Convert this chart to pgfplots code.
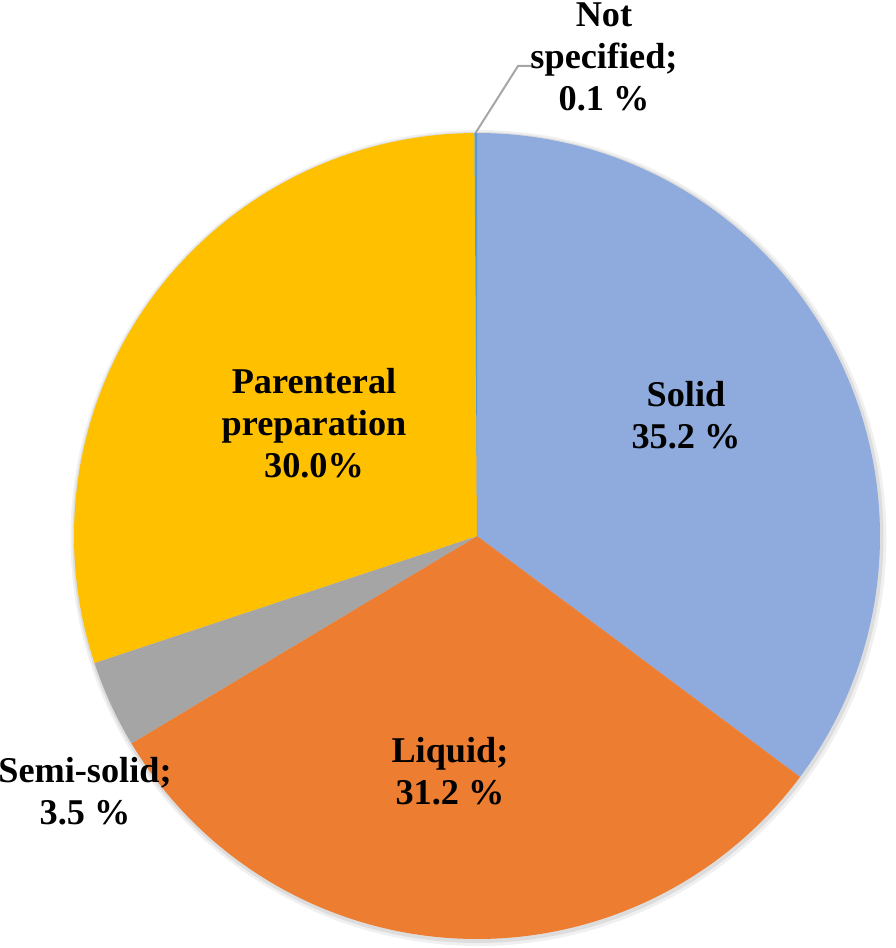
\documentclass[border=0pt]{standalone}
\usepackage{pgfplots}
\pgfplotsset{compat=1.18}
\usepackage{fontspec}
\setmainfont{Liberation Serif}
\definecolor{csolid}{HTML}{8FAADC}
\definecolor{cliquid}{HTML}{ED7D31}
\definecolor{csemi}{HTML}{A5A5A5}
\definecolor{cparen}{HTML}{FFC000}
\definecolor{cnot}{HTML}{5B9BD5}
\definecolor{cline}{HTML}{A6A6A6}
\tikzset{lab/.style={font=\bfseries\fontsize{27.2}{31.5}\selectfont, align=center, text=black, inner sep=0pt}}
% shares in percent
\def\pSolid{35.2}
\def\pLiquid{31.2}
\def\pSemi{3.5}
\def\pParen{30.0}
\def\pNot{0.1}
\pgfmathsetmacro{\aA}{90}
\pgfmathsetmacro{\aB}{\aA-3.6*\pSolid}
\pgfmathsetmacro{\aC}{\aB-3.6*\pLiquid}
\pgfmathsetmacro{\aD}{\aC-3.6*\pSemi}
\pgfmathsetmacro{\aE}{\aD-3.6*\pParen}
\pgfmathsetmacro{\aF}{\aE-3.6*\pNot}
\def\cx{477}
\def\cy{536}
\def\rr{403}
\begin{document}
\begin{tikzpicture}
\begin{axis}[
  x=0.75pt, y=0.75pt, y dir=reverse,
  xmin=0, xmax=895, ymin=0, ymax=948,
  hide axis, clip=false,
]
\coordinate (BL) at (axis cs:0,948);
\coordinate (TR) at (axis cs:895,0);
% soft shadow
\addplot[draw=none, fill=black, fill opacity=0.06, domain=0:360, samples=181] ({\cx+1.5+(\rr+5)*cos(x)},{\cy+2+(\rr+5)*sin(x)}) -- cycle;
\addplot[draw=none, fill=black, fill opacity=0.08, domain=0:360, samples=181] ({\cx+1+(\rr+2.5)*cos(x)},{\cy+1.5+(\rr+2.5)*sin(x)}) -- cycle;
% wedges
\addplot[draw=none, fill=csolid, domain=\aB:\aA, samples=120] ({\cx+\rr*cos(x)},{\cy-\rr*sin(x)}) -- (axis cs:\cx,\cy) -- cycle;
\addplot[draw=none, fill=cliquid, domain=\aC:\aB, samples=120] ({\cx+\rr*cos(x)},{\cy-\rr*sin(x)}) -- (axis cs:\cx,\cy) -- cycle;
\addplot[draw=none, fill=csemi, domain=\aD:\aC, samples=20] ({\cx+\rr*cos(x)},{\cy-\rr*sin(x)}) -- (axis cs:\cx,\cy) -- cycle;
\addplot[draw=none, fill=cparen, domain=\aE:\aD, samples=120] ({\cx+\rr*cos(x)},{\cy-\rr*sin(x)}) -- (axis cs:\cx,\cy) -- cycle;
\addplot[draw=none, fill=cnot, domain=\aF:\aE, samples=3] ({\cx+\rr*cos(x)},{\cy-\rr*sin(x)}) -- (axis cs:\cx,\cy) -- cycle;
% leader line
\draw[cline, line width=1.5pt] (axis cs:475.5,133) -- (axis cs:518,66) -- (axis cs:531,66);
% labels
\node[lab] at (axis cs:686,415) {Solid\\35.2 \%};
\node[lab] at (axis cs:314,423) {Parenteral\\preparation\\30.0\%};
\node[lab] at (axis cs:450,771) {Liquid;\\31.2 \%};
\node[lab] at (axis cs:85,791) {Semi-solid;\\3.5 \%};
\node[lab] at (axis cs:604,57) {Not\\specified;\\0.1 \%};
\end{axis}
\pgfresetboundingbox
\path[use as bounding box] (BL) rectangle (TR);
\end{tikzpicture}
\end{document}
